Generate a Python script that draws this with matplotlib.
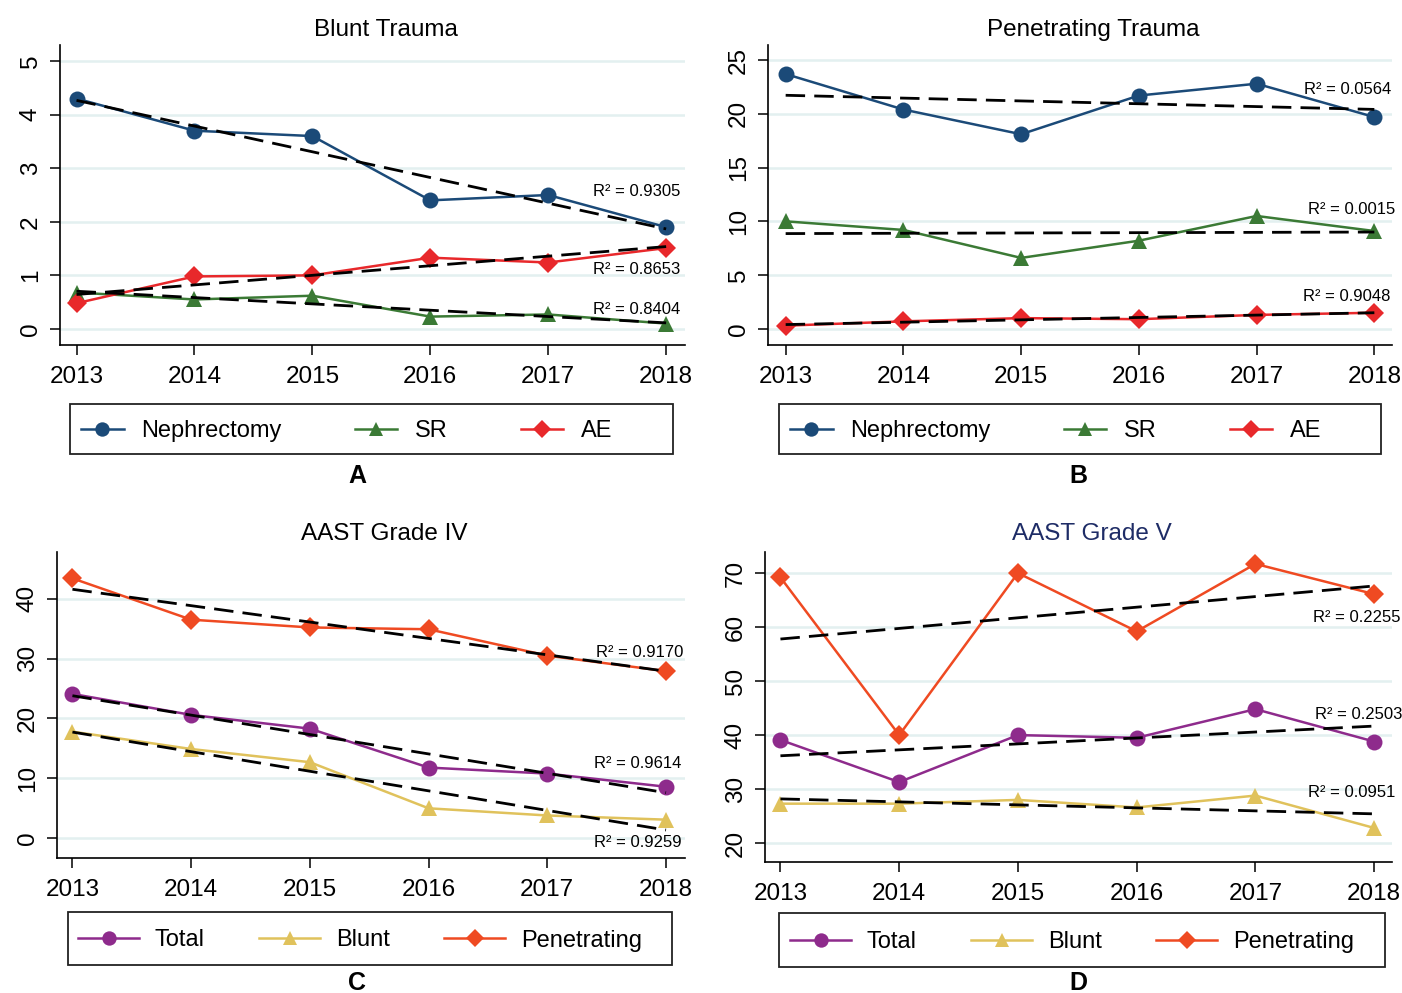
import numpy as np
import matplotlib
matplotlib.use("Agg")
import matplotlib.pyplot as plt
from matplotlib.lines import Line2D
from matplotlib.patches import Rectangle

# ---------------- data ----------------
years = [2013, 2014, 2015, 2016, 2017, 2018]

blunt_nephrectomy = [4.3, 3.7, 3.6, 2.4, 2.5, 1.9]
blunt_sr = [0.68, 0.55, 0.62, 0.23, 0.27, 0.10]
blunt_ae = [0.48, 0.98, 1.00, 1.33, 1.24, 1.51]
blunt_r2 = ["R² = 0.9305", "R² = 0.8404", "R² = 0.8653"]

pen_nephrectomy = [23.7, 20.4, 18.1, 21.7, 22.8, 19.7]
pen_sr = [10.0, 9.2, 6.6, 8.2, 10.5, 9.1]
pen_ae = [0.3, 0.7, 1.0, 0.9, 1.3, 1.5]
pen_r2 = ["R² = 0.0564", "R² = 0.0015", "R² = 0.9048"]

g4_total = [24.1, 20.6, 18.3, 11.8, 10.8, 8.6]
g4_blunt = [17.8, 14.9, 12.7, 5.0, 3.8, 3.1]
g4_pen = [43.4, 36.5, 35.2, 34.9, 30.5, 27.9]
g4_r2 = ["R² = 0.9614", "R² = 0.9259", "R² = 0.9170"]

g5_total = [39.1, 31.3, 40.0, 39.5, 44.8, 38.8]
g5_blunt = [27.3, 27.3, 28.0, 26.6, 28.8, 22.8]
g5_pen = [69.2, 40.0, 70.0, 59.2, 71.7, 66.1]
g5_r2 = ["R² = 0.2503", "R² = 0.0951", "R² = 0.2255"]

labels_ab = ["Nephrectomy", "SR", "AE"]
labels_cd = ["Total", "Blunt", "Penetrating"]

# ---------------- style ----------------
plt.rcParams["font.family"] = ["Liberation Sans", "DejaVu Sans"]

C_NAVY = "#1b4a78"
C_GREEN = "#3b7a35"
C_RED = "#e8282b"
C_PURPLE = "#8e2b8c"
C_SAND = "#e0c25c"
C_ORANGE = "#ef4a22"
GRID = "#e3f0f0"

TICK_FS = 17.5
TITLE_FS = 17.5
LEG_FS = 17
R2_FS = 12

mk_ab = [("o", 11.5), ("^", 11.5), ("D", 10.5)]
mk_cd = [("o", 11.5), ("^", 11.5), ("D", 10.5)]

W, H = 1402, 993
fig = plt.figure(figsize=(W / 100, H / 100), dpi=100)
fig.patch.set_facecolor("white")


def px_axes(x0, y0, x1, y1):
    return fig.add_axes([x0 / W, 1 - y1 / H, (x1 - x0) / W, (y1 - y0) / H])


def panel(rect, title, series, colors, markers, r2, r2pos, ylim, yticks,
          xlim, title_color="black", title_off=18):
    ax = px_axes(*rect)
    for vals, col, (m, ms) in zip(series, colors, markers):
        ax.plot(years, vals, color=col, lw=1.8, marker=m, ms=ms,
                markeredgewidth=0, zorder=3)
        slope, icpt = np.polyfit(years, vals, 1)
        xe = np.array([years[0], years[-1]])
        ax.plot(xe, slope * xe + icpt, color="black", lw=2.0,
                dashes=(7, 3.3), zorder=4)
    for txt, (tx, ty) in zip(r2, r2pos):
        ax.text(tx, ty, txt, transform=ax.transAxes, ha="right", va="center",
                fontsize=R2_FS, zorder=5)
    ax.set_xlim(*xlim)
    ax.set_ylim(*ylim)
    ax.set_xticks(years)
    ax.set_xticklabels([str(y) for y in years])
    ax.set_yticks(yticks)
    ax.yaxis.grid(True, color=GRID, lw=1.8, zorder=0)
    ax.set_axisbelow(True)
    for s in ("top", "right"):
        ax.spines[s].set_visible(False)
    for s in ("left", "bottom"):
        ax.spines[s].set_linewidth(1.2)
    ax.tick_params(axis="both", length=7, width=1.1, labelsize=TICK_FS)
    ax.tick_params(axis="x", pad=8)
    ax.tick_params(axis="y", labelrotation=90, pad=6)
    for lab in ax.get_yticklabels():
        lab.set_va("center")
    ax.text(0.5 + 13 / (rect[2] - rect[0]), 1 + title_off / (rect[3] - rect[1]),
            title, transform=ax.transAxes, ha="center", va="center",
            fontsize=TITLE_FS, color=title_color)
    return ax


def legend_box(box, start_x, labels, colors, markers, hlen, hpad, cspace):
    x0, y0, x1, y1 = box
    fig.add_artist(Rectangle((x0 / W, 1 - y1 / H), (x1 - x0) / W,
                             (y1 - y0) / H, transform=fig.transFigure,
                             fill=False, edgecolor="#222222", lw=1.3))
    handles = [Line2D([], [], color=c, lw=1.8, marker=m, ms=ms * 0.9,
                      markeredgewidth=0)
               for c, (m, ms) in zip(colors, markers)]
    fig.legend(handles, labels, loc="center left",
               bbox_to_anchor=(start_x / W, 1 - ((y0 + y1) / 2 + 2) / H),
               ncol=3, frameon=False, fontsize=LEG_FS, borderpad=0,
               borderaxespad=0, handlelength=hlen, handletextpad=hpad,
               columnspacing=cspace, numpoints=1)


# A: blunt trauma
panel((60, 45, 685, 345), "Blunt Trauma",
      [blunt_nephrectomy, blunt_sr, blunt_ae], [C_NAVY, C_GREEN, C_RED],
      mk_ab, blunt_r2, [(0.992, 0.513), (0.992, 0.117), (0.992, 0.25)],
      (-0.3, 5.3), range(0, 6, 1), (2012.86, 2018.16), title_off=15)

# B: penetrating trauma
panel((768, 45, 1392, 345), "Penetrating Trauma",
      [pen_nephrectomy, pen_sr, pen_ae], [C_NAVY, C_GREEN, C_RED],
      mk_ab, pen_r2, [(0.998, 0.853), (1.005, 0.45), (0.998, 0.163)],
      (-1.5, 26.4), range(0, 26, 5), (2012.85, 2018.15), title_off=15)

# C: AAST grade IV
panel((57, 552, 685, 858), "AAST Grade IV",
      [g4_total, g4_blunt, g4_pen], [C_PURPLE, C_SAND, C_ORANGE],
      mk_cd, g4_r2, [(0.995, 0.31), (0.994, 0.052), (0.998, 0.673)],
      (-3.3, 47.8), range(0, 41, 10), (2012.87, 2018.16), title_off=18)

# D: AAST grade V
panel((765, 552, 1392, 862), "AAST Grade V",
      [g5_total, g5_blunt, g5_pen], [C_PURPLE, C_SAND, C_ORANGE],
      mk_cd, g5_r2, [(1.016, 0.477), (1.005, 0.223), (1.013, 0.79)],
      (16.5, 73.9), range(20, 71, 10), (2012.87, 2018.15),
      title_color="#1e2c66", title_off=18)

legend_box((70, 404, 673, 454), 81, labels_ab, [C_NAVY, C_GREEN, C_RED],
           mk_ab, 1.8, 0.75, 3.1)
legend_box((779, 404, 1381, 454), 790, labels_ab, [C_NAVY, C_GREEN, C_RED],
           mk_ab, 1.8, 0.75, 3.1)
legend_box((68, 912, 672, 965), 78, labels_cd, [C_PURPLE, C_SAND, C_ORANGE],
           mk_cd, 2.6, 0.65, 2.3)
legend_box((779, 913, 1385, 967), 790, labels_cd, [C_PURPLE, C_SAND, C_ORANGE],
           mk_cd, 2.6, 0.65, 2.3)

for letter, (lx, ly) in zip("ABCD", [(357, 476), (1078, 476),
                                     (357, 983), (1078, 983)]):
    fig.text(lx / W, 1 - ly / H, letter, ha="center", va="center",
             fontsize=18, fontweight="bold")

fig.savefig("out.png", dpi=100, facecolor="white")
